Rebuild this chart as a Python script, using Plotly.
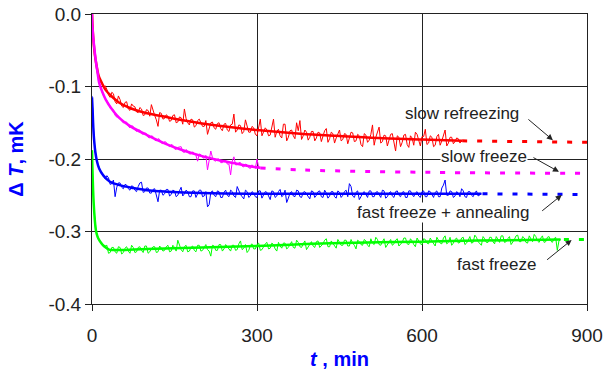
import plotly.graph_objects as go

# ---------------- data ----------------
# main samples
t_red = [0, 2, 4, 6, 8, 10, 12, 14, 16] + list(range(18, 673, 6))
v_red = [-0.002, -0.035, -0.050, -0.062, -0.072, -0.080, -0.087, -0.088, -0.095,
         -0.094, -0.099, -0.112, -0.108, -0.121, -0.113, -0.127, -0.122, -0.131, -0.124,
         -0.128, -0.136, -0.131, -0.139, -0.133, -0.125, -0.140, -0.155, -0.137, -0.144,
         -0.141, -0.147, -0.139, -0.149, -0.143, -0.131, -0.150, -0.145, -0.156, -0.147,
         -0.149, -0.155, -0.166, -0.150, -0.157, -0.151, -0.158, -0.152, -0.160, -0.153,
         -0.138, -0.160, -0.154, -0.162, -0.155, -0.163, -0.157, -0.168, -0.145, -0.163,
         -0.160, -0.167, -0.145, -0.162, -0.168, -0.152, -0.175, -0.161, -0.168, -0.150,
         -0.147, -0.168, -0.163, -0.170, -0.162, -0.171, -0.164, -0.169, -0.158, -0.172,
         -0.165, -0.171, -0.160, -0.173, -0.166, -0.172, -0.164, -0.175, -0.168, -0.183,
         -0.167, -0.174, -0.153, -0.170, -0.156, -0.176, -0.168, -0.174, -0.165, -0.189,
         -0.170, -0.177, -0.166, -0.184, -0.171, -0.163, -0.176, -0.169, -0.159, -0.178,
         -0.170, -0.181, -0.166, -0.175, -0.160, -0.178, -0.170, -0.176, -0.172, -0.175]
# in-between samples
t_red_mid = list(range(21, 673, 6))
v_red_mid = [-0.101, -0.104, -0.115, -0.110, -0.124, -0.118, -0.129, -0.121, -0.133, -0.127,
             -0.135, -0.129, -0.140, -0.132, -0.141, -0.134, -0.146, -0.136, -0.145, -0.139,
             -0.148, -0.140, -0.150, -0.142, -0.152, -0.144, -0.153, -0.146, -0.154, -0.145,
             -0.155, -0.147, -0.158, -0.149, -0.159, -0.150, -0.161, -0.151, -0.162, -0.152,
             -0.163, -0.153, -0.165, -0.146, -0.163, -0.155, -0.166, -0.156, -0.168, -0.157,
             -0.168, -0.158, -0.170, -0.159, -0.171, -0.152, -0.170, -0.160, -0.172, -0.161,
             -0.173, -0.160, -0.174, -0.162, -0.175, -0.163, -0.176, -0.161, -0.177, -0.163,
             -0.178, -0.164, -0.175, -0.165, -0.179, -0.163, -0.176, -0.166, -0.180, -0.165,
             -0.177, -0.166, -0.181, -0.164, -0.178, -0.167, -0.182, -0.166, -0.179, -0.168,
             -0.183, -0.167, -0.180, -0.168, -0.181, -0.166, -0.182, -0.169, -0.180, -0.168,
             -0.183, -0.169, -0.181, -0.167, -0.182, -0.170, -0.179, -0.171, -0.178]
fit_red_t = [0, 2, 5, 8, 12, 16, 25, 35, 49, 70, 100, 128, 160, 200, 250, 300, 379, 445, 520, 600, 673]
fit_red_v = [0.0, -0.030, -0.055, -0.070, -0.085, -0.092, -0.105, -0.113, -0.122, -0.130, -0.137,
             -0.141, -0.146, -0.151, -0.156, -0.160, -0.165, -0.168, -0.171, -0.173, -0.175]
ext_red_t = [673, 900]
ext_red_v = [-0.175, -0.177]

t_mag = [0, 1, 2, 4, 6, 8, 10, 12, 14] + list(range(18, 307, 6))
v_mag = [0.0, -0.020, -0.030, -0.046, -0.060, -0.071, -0.080, -0.090, -0.098,
         -0.107, -0.116, -0.123, -0.131, -0.140, -0.141, -0.148, -0.149, -0.155, -0.154,
         -0.160, -0.160, -0.165, -0.164, -0.170, -0.168, -0.174, -0.172, -0.178, -0.176,
         -0.181, -0.180, -0.186, -0.184, -0.183, -0.191, -0.189, -0.193, -0.192, -0.203,
         -0.194, -0.199, -0.215, -0.189, -0.202, -0.200, -0.205, -0.202, -0.207, -0.222,
         -0.197, -0.208, -0.205, -0.211, -0.208, -0.213, -0.210, -0.200, -0.212]
t_mag_mid = list(range(21, 307, 6))
v_mag_mid = [-0.113, -0.119, -0.130, -0.132, -0.142, -0.143, -0.150, -0.149, -0.157, -0.155,
             -0.162, -0.160, -0.166, -0.165, -0.171, -0.169, -0.175, -0.173, -0.179, -0.177,
             -0.183, -0.181, -0.187, -0.184, -0.190, -0.187, -0.193, -0.190, -0.195, -0.193,
             -0.198, -0.195, -0.201, -0.198, -0.203, -0.200, -0.205, -0.202, -0.207, -0.203,
             -0.208, -0.205, -0.210, -0.207, -0.212, -0.208, -0.213, -0.211]
fit_mag_t = [0, 1, 2, 4, 7, 10, 13, 19, 25, 35, 49, 70, 100, 134, 165, 200, 227, 260, 287, 306]
fit_mag_v = [0.0, -0.020, -0.030, -0.045, -0.065, -0.080, -0.095, -0.108, -0.118, -0.130, -0.143,
             -0.155, -0.167, -0.179, -0.188, -0.196, -0.201, -0.206, -0.210, -0.212]
ext_mag_t = [306, 388, 621, 900]
ext_mag_v = [-0.2125, -0.2153, -0.2185, -0.2198]

t_blue = [0, 1, 2, 3, 4, 6, 8, 10, 12, 14] + list(range(18, 709, 6))
v_blue = [-0.113, -0.132, -0.150, -0.166, -0.176, -0.190, -0.199, -0.207, -0.210, -0.216,
          -0.220, -0.227, -0.226, -0.234, -0.252, -0.233, -0.239, -0.235, -0.241, -0.237,
          -0.243, -0.238, -0.232, -0.245, -0.240, -0.247, -0.241, -0.259, -0.243, -0.248,
          -0.242, -0.249, -0.244, -0.250, -0.239, -0.248, -0.245, -0.252, -0.244, -0.249,
          -0.243, -0.251, -0.266, -0.246, -0.250, -0.244, -0.253, -0.246, -0.250, -0.243,
          -0.251, -0.238, -0.249, -0.255, -0.245, -0.251, -0.247, -0.253, -0.244, -0.250,
          -0.246, -0.256, -0.245, -0.251, -0.242, -0.250, -0.260, -0.247, -0.251, -0.243,
          -0.252, -0.246, -0.249, -0.255, -0.245, -0.250, -0.244, -0.253, -0.247, -0.251,
          -0.245, -0.254, -0.246, -0.250, -0.243, -0.234, -0.251, -0.246, -0.256, -0.247,
          -0.250, -0.244, -0.252, -0.246, -0.249, -0.243, -0.254, -0.247, -0.251, -0.245,
          -0.250, -0.246, -0.253, -0.244, -0.249, -0.247, -0.251, -0.245, -0.252, -0.244,
          -0.249, -0.246, -0.252, -0.240, -0.229, -0.250, -0.245, -0.251, -0.247, -0.241,
          -0.252, -0.245, -0.250, -0.247, -0.251, -0.248]
t_blue_mid = list(range(21, 709, 6))
v_blue_mid = [-0.225, -0.223, -0.235, -0.229, -0.239, -0.233, -0.241, -0.236, -0.243, -0.238,
              -0.245, -0.233, -0.246, -0.240, -0.247, -0.242, -0.249, -0.243, -0.250, -0.242,
              -0.251, -0.243, -0.252, -0.244, -0.251, -0.243, -0.252, -0.244, -0.253, -0.243,
              -0.252, -0.245, -0.263, -0.244, -0.252, -0.245, -0.253, -0.243, -0.252, -0.245,
              -0.253, -0.244, -0.252, -0.243, -0.253, -0.245, -0.252, -0.244, -0.254, -0.245,
              -0.252, -0.244, -0.253, -0.245, -0.252, -0.243, -0.254, -0.245, -0.252, -0.244,
              -0.253, -0.245, -0.252, -0.244, -0.253, -0.245, -0.252, -0.243, -0.254, -0.245,
              -0.252, -0.244, -0.253, -0.245, -0.252, -0.238, -0.253, -0.244, -0.252, -0.245,
              -0.253, -0.244, -0.252, -0.245, -0.253, -0.244, -0.252, -0.245, -0.253, -0.244,
              -0.252, -0.245, -0.253, -0.244, -0.252, -0.245, -0.253, -0.244, -0.252, -0.245,
              -0.253, -0.244, -0.252, -0.236, -0.250, -0.244, -0.253, -0.245, -0.252, -0.244,
              -0.253, -0.245, -0.252, -0.244, -0.250]
fit_blue_t = [0, 1, 2, 3, 4, 6, 9, 13, 20, 32, 50, 75, 100, 136, 200, 300, 400, 500, 600, 708]
fit_blue_v = [-0.115, -0.130, -0.150, -0.165, -0.175, -0.190, -0.203, -0.213, -0.222, -0.231,
              -0.236, -0.240, -0.243, -0.245, -0.247, -0.248, -0.248, -0.248, -0.248, -0.248]
ext_blue_t = [710, 900]
ext_blue_v = [-0.248, -0.249]

t_green = [0, 1, 2, 3, 4, 6, 8, 10, 12, 14] + list(range(18, 853, 6))
v_green = [-0.188, -0.222, -0.244, -0.261, -0.274, -0.291, -0.301, -0.306, -0.310, -0.313,
           -0.318, -0.320, -0.330, -0.322, -0.328, -0.321, -0.331, -0.323, -0.327, -0.319,
           -0.329, -0.322, -0.326, -0.320, -0.330, -0.324, -0.321, -0.328, -0.323, -0.326,
           -0.319, -0.327, -0.322, -0.312, -0.325, -0.321, -0.328, -0.322, -0.326, -0.319,
           -0.327, -0.321, -0.325, -0.334, -0.320, -0.326, -0.318, -0.324, -0.321, -0.327,
           -0.319, -0.325, -0.313, -0.323, -0.329, -0.319, -0.324, -0.318, -0.326, -0.320,
           -0.315, -0.323, -0.318, -0.327, -0.320, -0.316, -0.324, -0.318, -0.322, -0.312,
           -0.321, -0.317, -0.325, -0.316, -0.320, -0.314, -0.322, -0.317, -0.310, -0.321,
           -0.316, -0.323, -0.315, -0.319, -0.312, -0.320, -0.316, -0.324, -0.314, -0.319,
           -0.313, -0.321, -0.316, -0.308, -0.318, -0.314, -0.322, -0.315, -0.319, -0.312,
           -0.320, -0.315, -0.309, -0.318, -0.313, -0.321, -0.314, -0.318, -0.311, -0.317,
           -0.313, -0.320, -0.312, -0.317, -0.306, -0.315, -0.319, -0.311, -0.316, -0.309,
           -0.318, -0.312, -0.316, -0.305, -0.314, -0.319, -0.310, -0.315, -0.308, -0.317,
           -0.312, -0.306, -0.315, -0.310, -0.318, -0.311, -0.305, -0.314, -0.309, -0.316,
           -0.311, -0.304, -0.313, -0.309, -0.315, -0.308, -0.313, -0.310, -0.326, -0.311]
t_green_mid = list(range(21, 853, 6))
v_green_mid = [-0.321, -0.319, -0.329, -0.322, -0.330, -0.322, -0.329, -0.321, -0.330, -0.322,
               -0.328, -0.321, -0.329, -0.320, -0.328, -0.321, -0.329, -0.320, -0.327, -0.321,
               -0.328, -0.319, -0.327, -0.320, -0.328, -0.319, -0.327, -0.320, -0.328, -0.319,
               -0.326, -0.318, -0.327, -0.319, -0.326, -0.318, -0.327, -0.318, -0.325, -0.319,
               -0.326, -0.317, -0.325, -0.318, -0.326, -0.317, -0.324, -0.316, -0.325, -0.317,
               -0.324, -0.316, -0.324, -0.315, -0.323, -0.316, -0.322, -0.314, -0.323, -0.315,
               -0.322, -0.313, -0.321, -0.314, -0.322, -0.313, -0.320, -0.312, -0.321, -0.313,
               -0.320, -0.311, -0.319, -0.312, -0.320, -0.311, -0.319, -0.312, -0.318, -0.311,
               -0.319, -0.310, -0.318, -0.311, -0.319, -0.310, -0.318, -0.311, -0.317, -0.310,
               -0.318, -0.309, -0.317, -0.310, -0.318, -0.309, -0.317, -0.310, -0.316, -0.309,
               -0.317, -0.308, -0.316, -0.309, -0.317, -0.308, -0.316, -0.309, -0.315, -0.308,
               -0.316, -0.307, -0.315, -0.308, -0.316, -0.307, -0.315, -0.308, -0.314, -0.307,
               -0.315, -0.306, -0.314, -0.307, -0.315, -0.306, -0.314, -0.307, -0.315, -0.306,
               -0.314, -0.307, -0.315, -0.306, -0.314, -0.307, -0.315, -0.308, -0.313]
fit_green_t = [0, 1, 2, 3, 5, 7, 10, 14, 19, 25, 31, 50, 100, 200, 300, 400, 500, 600, 700, 852]
fit_green_v = [-0.188, -0.220, -0.243, -0.260, -0.283, -0.298, -0.307, -0.313, -0.318, -0.322,
               -0.325, -0.3255, -0.324, -0.322, -0.320, -0.317, -0.315, -0.314, -0.3125, -0.311]
ext_green_t = [858, 900]
ext_green_v = [-0.311, -0.311]

labels = ["slow refreezing", "slow freeze", "fast freeze + annealing", "fast freeze"]
label_pos_t = [673, 712, 639, 735]
label_pos_v = [-0.137, -0.197, -0.274, -0.345]
arrow_head_t = [838, 849, 854, 872]
arrow_head_v = [-0.174, -0.2176, -0.2497, -0.3117]

x_ticks = [0, 300, 600, 900]
y_ticks = [0.0, -0.1, -0.2, -0.3, -0.4]
y_tick_text = ["0.0", "-0.1", "-0.2", "-0.3", "-0.4"]


def merged(ta, va, tb, vb):
    pairs = sorted(zip(ta + tb, va + vb))
    return [p[0] for p in pairs], [p[1] for p in pairs]


# ---------------- figure ----------------
fig = go.Figure()
series = [
    (merged(t_red, v_red, t_red_mid, v_red_mid), fit_red_t, fit_red_v, ext_red_t, ext_red_v, "#ff0000"),
    (merged(t_mag, v_mag, t_mag_mid, v_mag_mid), fit_mag_t, fit_mag_v, ext_mag_t, ext_mag_v, "#ff00ff"),
    (merged(t_blue, v_blue, t_blue_mid, v_blue_mid), fit_blue_t, fit_blue_v, ext_blue_t, ext_blue_v, "#0000ff"),
    (merged(t_green, v_green, t_green_mid, v_green_mid), fit_green_t, fit_green_v, ext_green_t, ext_green_v, "#00ff00"),
]
for (t, v), ft, fv, et, ev, c in series:
    fig.add_trace(go.Scatter(x=t, y=v, mode="lines", line=dict(color=c, width=1),
                             showlegend=False, hoverinfo="skip"))
    fig.add_trace(go.Scatter(x=ft, y=fv, mode="lines", line=dict(color=c, width=2.5, shape="spline"),
                             showlegend=False, hoverinfo="skip"))
    fig.add_trace(go.Scatter(x=et, y=ev, mode="lines",
                             line=dict(color=c, width=3, dash="5px,10px", shape="spline"),
                             showlegend=False, hoverinfo="skip"))

font_main = "Liberation Sans, Arial, sans-serif"
tail_offsets = [(-26, -22), (-27, -15), (-21, 17), (-26, 21)]
for i, txt in enumerate(labels):
    bg = "white" if i in (1, 2) else "rgba(0,0,0,0)"
    fig.add_annotation(x=label_pos_t[i], y=label_pos_v[i], text=txt, showarrow=False,
                       font=dict(family=font_main, size=17, color="#222"), bgcolor=bg,
                       borderpad=0)
    ax, ay = tail_offsets[i]
    fig.add_annotation(x=arrow_head_t[i], y=arrow_head_v[i], text="", showarrow=True,
                       ax=ax, ay=ay, arrowhead=2, arrowsize=1.2, arrowwidth=1, arrowcolor="#222")

fig.update_xaxes(range=[0, 900], tickvals=x_ticks, showgrid=True, gridcolor="#222", gridwidth=1,
                 showline=True, linecolor="#222", linewidth=1, mirror=True, automargin=False,
                 ticks="outside", ticklen=6, tickcolor="#222", zeroline=False,
                 ticklabeloverflow="allow",
                 tickfont=dict(family=font_main, size=19, color="#222"), ticklabelstandoff=8,
                 title=dict(text="<b><i>t</i> , min</b>", font=dict(family=font_main, size=20, color="#0000ff"),
                            standoff=7))
fig.update_yaxes(range=[-0.4, 0], tickvals=y_ticks, ticktext=y_tick_text, showgrid=True,
                 gridcolor="#222", gridwidth=1, showline=True, linecolor="#222", linewidth=1, mirror=True,
                 ticks="outside", ticklen=6, tickcolor="#222", zeroline=False, automargin=False,
                 ticklabeloverflow="allow",
                 tickfont=dict(family=font_main, size=19, color="#222"),
                 title=dict(text="<b>Δ <i>T</i>, mK</b>", font=dict(family=font_main, size=20, color="#0000ff"),
                            standoff=19))
fig.update_layout(width=605, height=372, margin=dict(l=92, r=18, t=14, b=68),
                  paper_bgcolor="white", plot_bgcolor="white")
# remove the browser's default 8px body margin so the figure fills the window exactly
fig.write_html("out.html", config={"displayModeBar": False},
               post_script="document.body.style.margin='0';document.body.style.overflow='hidden';")
